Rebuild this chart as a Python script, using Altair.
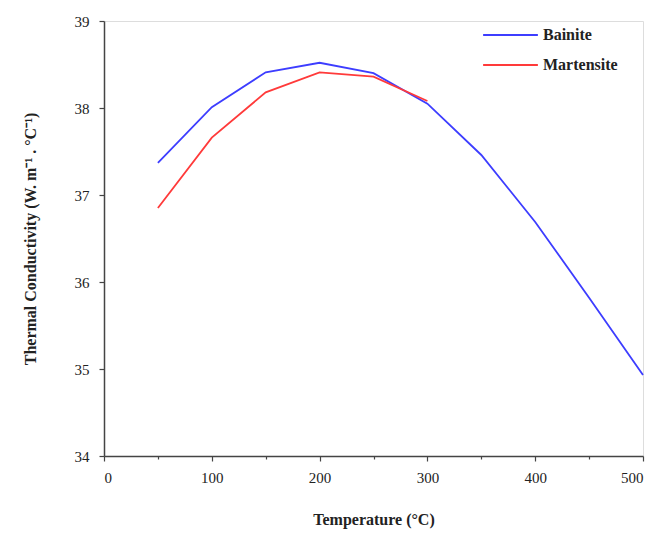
import altair as alt
import pandas as pd

temps_b = [50, 100, 150, 200, 250, 300, 350, 400, 450, 500]
bainite = [37.37, 38.01, 38.41, 38.52, 38.40, 38.05, 37.46, 36.69, 35.82, 34.93]
temps_m = [50, 100, 150, 200, 250, 300]
martensite = [36.85, 37.66, 38.18, 38.41, 38.36, 38.08]

rows = [{"T": t, "k": v, "Phase": "Bainite"} for t, v in zip(temps_b, bainite)]
rows += [{"T": t, "k": v, "Phase": "Martensite"} for t, v in zip(temps_m, martensite)]
df = pd.DataFrame(rows)

font = "Liberation Serif"
txt = "#222222"

xticks = list(range(0, 501, 50))
yticks = [34 + 0.5 * i for i in range(11)]

common = dict(labelFont=font, labelFontSize=15, labelColor=txt,
              titleFont=font, titleFontSize=16, titleFontWeight="bold", titleColor=txt,
              domainColor="#444444", tickColor="#444444", domainWidth=1.5, tickWidth=1.2,
              grid=False)

lines = alt.Chart(df).mark_line(strokeWidth=1.8).encode(
    x=alt.X("T:Q", scale=alt.Scale(domain=[0, 500], nice=False),
            axis=alt.Axis(title="Temperature (°C)", values=xticks, format="d",
                          labelExpr="datum.value % 100 === 0 ? datum.label : ''",
                          tickSize={"condition": {"test": "datum.value % 100 === 0", "value": 5}, "value": 3},
                          titlePadding=26, labelPadding=9, **common)),
    y=alt.Y("k:Q", scale=alt.Scale(domain=[34, 39], nice=False, zero=False),
            axis=alt.Axis(title="Thermal Conductivity (W. m⁻¹ . °C⁻¹)", values=yticks, format="d",
                          labelExpr="datum.value % 1 === 0 ? datum.label : ''",
                          tickSize={"condition": {"test": "datum.value % 1 === 0", "value": 5}, "value": 3},
                          titlePadding=36, labelPadding=10, **common)),
    color=alt.Color("Phase:N",
                    scale=alt.Scale(domain=["Bainite", "Martensite"], range=["#3d3dff", "#ff3a3a"]),
                    legend=alt.Legend(title=None, orient="none", legendX=378, legendY=5,
                                      symbolType="stroke", symbolSize=3000, symbolStrokeWidth=1.8,
                                      clipHeight=18,
                                      labelFont=font, labelFontSize=16, labelFontWeight="bold",
                                      labelColor=txt, rowPadding=12, labelOffset=4)),
)

chart = lines.properties(
    width=539, height=435,
    autosize=alt.AutoSizeParams(type="none"),
    padding={"left": 96, "top": 13, "right": 20, "bottom": 75},
).configure_view(
    stroke="#555555", strokeWidth=1.5,
).configure(background="white")

chart.save("out.html", embed_options={"renderer": "svg", "actions": False})
